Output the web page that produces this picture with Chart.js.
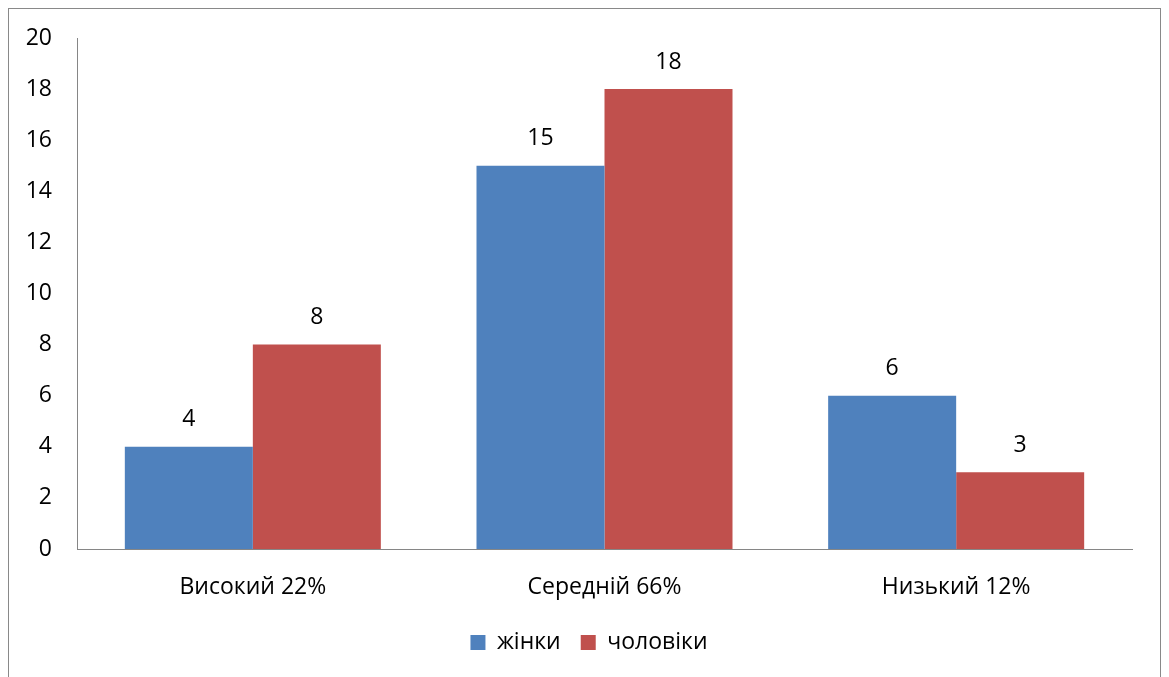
<!DOCTYPE html>
<html>
<head>
<meta charset="utf-8">
<script src="https://cdn.jsdelivr.net/npm/chart.js@4/dist/chart.umd.min.js"></script>
<style>
  html, body { margin: 0; padding: 0; background: #fff; }
  #wrap { width: 1169px; height: 677px; position: relative; }
</style>
</head>
<body>
<div id="wrap"><canvas id="levelChart"></canvas></div>
<script>
const categories = ['Високий 22%', 'Середній 66%', 'Низький 12%'];
const women = [4, 15, 6];
const men = [8, 18, 3];
const seriesNames = ['жінки', 'чоловіки'];

const FONT = "'Open Sans', 'Noto Sans', sans-serif";
const FONT_SIZE = 23;

// outer frame of the chart object, legend centred on the whole frame
const framePlugin = {
    id: 'frame',
    afterLayout(chart) {
        if (chart.legend) {
            chart.legend.left += 23;
            chart.legend.right += 23;
        }
    },
    beforeDraw(chart) {
        const ctx = chart.ctx;
        ctx.save();
        ctx.strokeStyle = '#898989';
        ctx.lineWidth = 1;
        ctx.strokeRect(8.5, 8.5, 1152, 720);
        ctx.restore();
    }
};

// value above every bar
const valueLabels = {
    id: 'valueLabels',
    afterDatasetsDraw(chart) {
        const ctx = chart.ctx;
        ctx.save();
        ctx.font = FONT_SIZE + 'px ' + FONT;
        ctx.fillStyle = '#000';
        ctx.textAlign = 'center';
        ctx.textBaseline = 'middle';
        chart.data.datasets.forEach((ds, i) => {
            chart.getDatasetMeta(i).data.forEach((bar, j) => {
                ctx.fillText(ds.data[j], bar.x, bar.y - 27);
            });
        });
        ctx.restore();
    }
};

new Chart(document.getElementById('levelChart'), {
    type: 'bar',
    data: {
        labels: categories,
        datasets: [{
            label: seriesNames[0],
            data: women,
            backgroundColor: '#4F81BD'
        }, {
            label: seriesNames[1],
            data: men,
            backgroundColor: '#C0504D'
        }]
    },
    options: {
        responsive: true,
        maintainAspectRatio: false,
        animation: false,
        datasets: {
            bar: { barPercentage: 1, categoryPercentage: 0.728 }
        },
        layout: { padding: { left: 0, top: 38, right: 37, bottom: 13 } },
        plugins: {
            tooltip: { enabled: false },
            legend: {
                position: 'bottom',
                labels: {
                    font: { family: FONT, size: FONT_SIZE },
                    color: '#000',
                    boxWidth: 15,
                    boxHeight: 15,
                    padding: 20
                }
            }
        },
        scales: {
            x: {
                grid: { display: false },
                border: { color: '#868686', width: 1 },
                ticks: { font: { family: FONT, size: FONT_SIZE }, color: '#000', padding: 17 },
                afterFit(scale) { scale.height = 62; }
            },
            y: {
                min: 0,
                max: 20,
                grid: { display: false },
                border: { color: '#868686', width: 1 },
                ticks: { stepSize: 2, font: { family: FONT, size: FONT_SIZE }, color: '#000', padding: 17 },
                afterFit(scale) { scale.width = 77; }
            }
        }
    },
    plugins: [framePlugin, valueLabels]
});
</script>
</body>
</html>
